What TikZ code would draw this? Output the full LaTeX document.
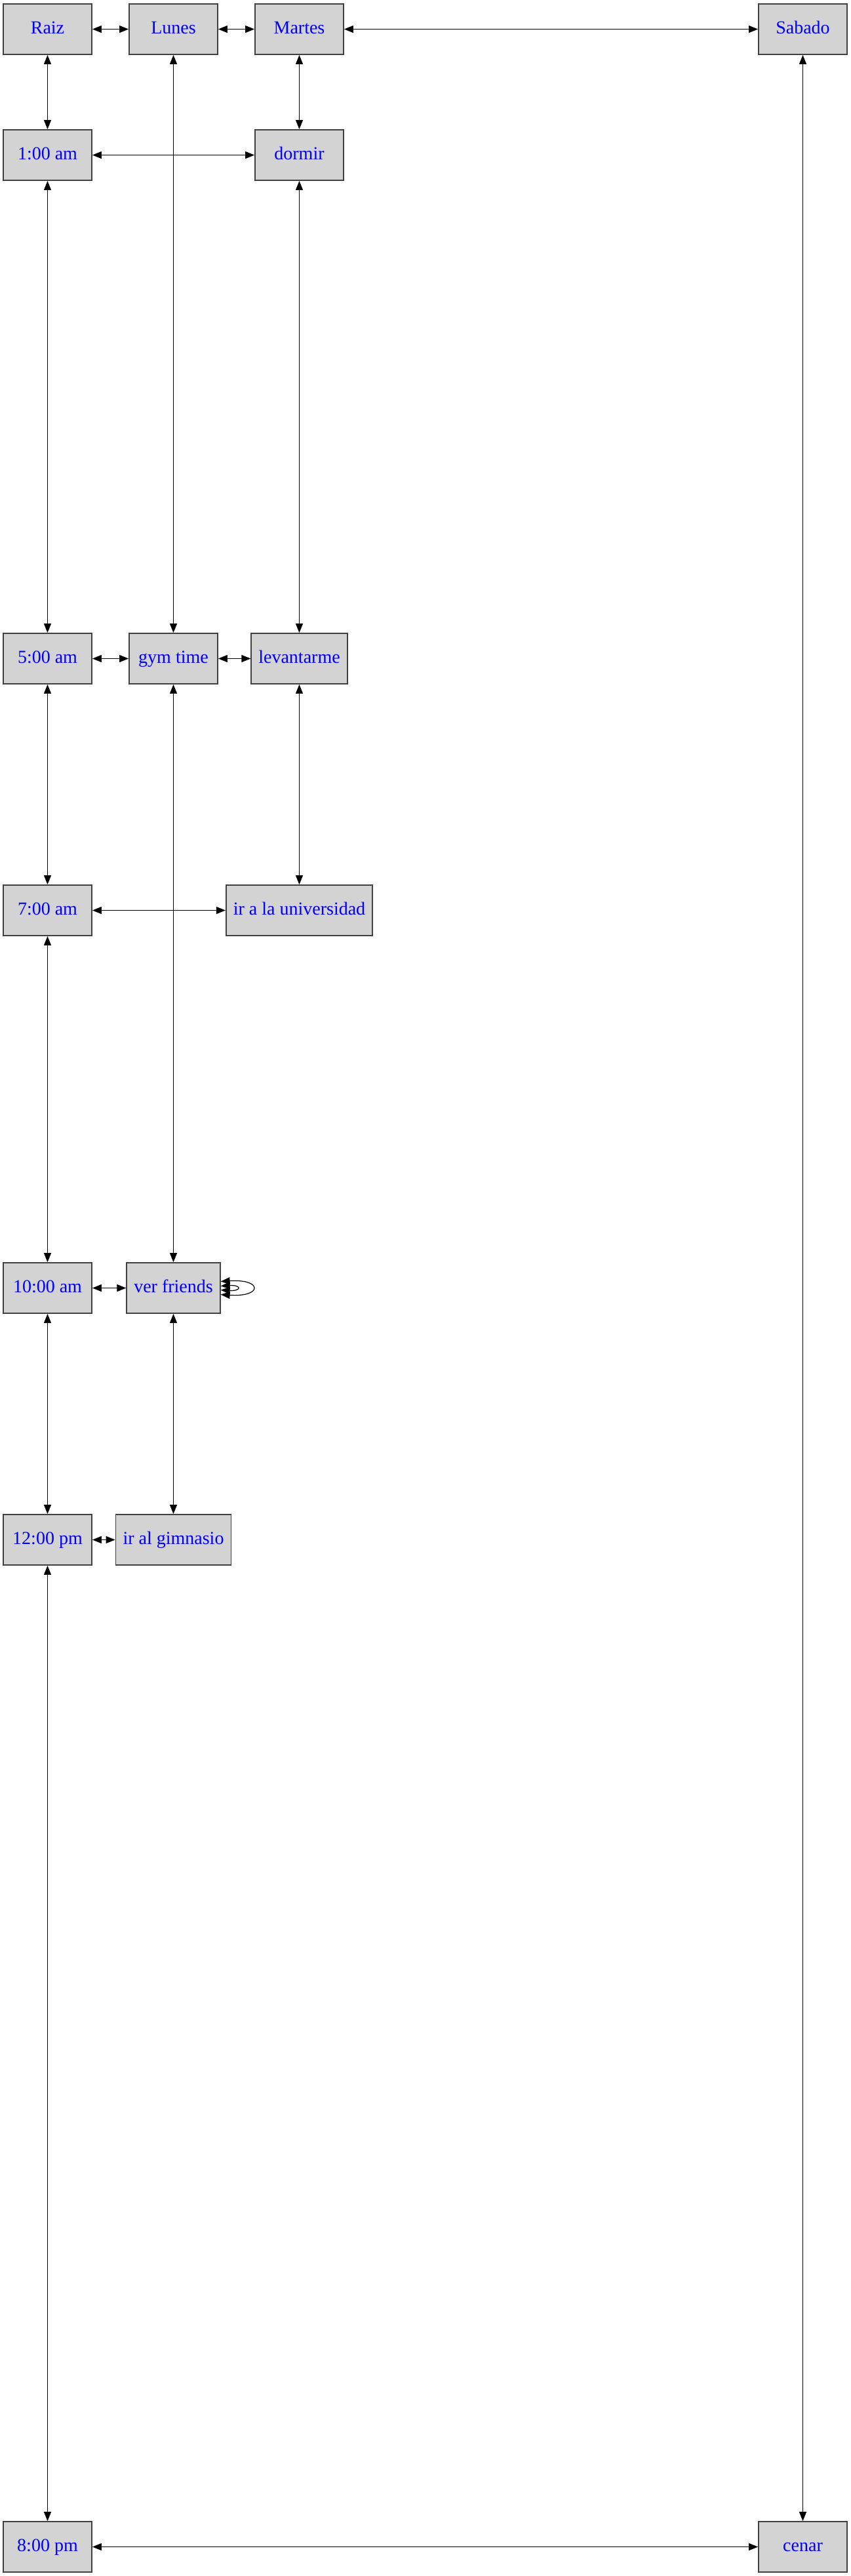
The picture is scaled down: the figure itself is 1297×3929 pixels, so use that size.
\documentclass[tikz,border=0pt]{standalone}
\usepackage{fontspec}
\setmainfont{Liberation Serif}
\usepackage{tikz}
\usetikzlibrary{arrows.meta}
\usepackage{xcolor}
\definecolor{boxgray}{HTML}{D3D3D3}

\begin{document}
\begin{tikzpicture}[x=0.5pt,y=-0.5pt,
  box/.style={draw=black!75, line width=0.9pt, fill=boxgray, text=blue, minimum width=67.5pt, minimum height=38.5pt, inner xsep=5.5pt, text height=10pt, text depth=3pt, font=\fontsize{14pt}{16pt}\selectfont},
  link/.style={{Triangle[length=7pt,width=5.5pt]}-{Triangle[length=7pt,width=5.5pt]}, line width=0.6pt}]
  \useasboundingbox (0,0) rectangle (1297,3929);
  \node[box] (raiz) at (72.5,44.5) {Raiz};
  \node[box] (lunes) at (264.5,44.5) {Lunes};
  \node[box] (martes) at (456.5,44.5) {Martes};
  \node[box] (sabado) at (1224.5,44.5) {Sabado};
  \node[box] (h1) at (72.5,236.5) {1:00 am};
  \node[box] (dormir) at (456.5,236.5) {dormir};
  \node[box] (h5) at (72.5,1004.5) {5:00 am};
  \node[box] (gym) at (264.5,1004.5) {gym time};
  \node[box] (levantarme) at (456.5,1004.5) {levantarme};
  \node[box] (h7) at (72.5,1388.5) {7:00 am};
  \node[box] (uni) at (456.5,1388.5) {ir a la universidad};
  \node[box] (h10) at (72.5,1964.5) {10:00 am};
  \node[box] (friends) at (264.5,1964.5) {ver friends};
  \node[box] (h12) at (72.5,2348.5) {12:00 pm};
  \node[box, minimum width=87.5pt] (gimnasio) at (264.5,2348.5) {ir al gimnasio};
  \node[box] (h20) at (72.5,3884.5) {8:00 pm};
  \node[box] (cenar) at (1224.5,3884.5) {cenar};
   \draw[link] (raiz) -- (lunes);
   \draw[link] (lunes) -- (martes);
   \draw[link] (martes) -- (sabado);
   \draw[link] (raiz) -- (h1);
   \draw[link] (martes) -- (dormir);
   \draw[link] (h1) -- (dormir);
   \draw[link] (lunes) -- (gym);
   \draw[link] (sabado) -- (cenar);
   \draw[link] (h1) -- (h5);
   \draw[link] (dormir) -- (levantarme);
   \draw[link] (h5) -- (gym);
   \draw[link] (gym) -- (levantarme);
   \draw[link] (h5) -- (h7);
   \draw[link] (levantarme) -- (uni);
   \draw[link] (h7) -- (uni);
   \draw[link] (gym) -- (friends);
   \draw[link] (h7) -- (h10);
   \draw[link] (h10) -- (friends);
   \draw[link] ([yshift=5pt]friends.east) .. controls +(32pt,2pt) and +(32pt,-2pt) .. ([yshift=-5pt]friends.east);
   \draw[link] ([yshift=1.5pt]friends.east) .. controls +(16pt,1pt) and +(16pt,-1pt) .. ([yshift=-1.5pt]friends.east);
   \draw[link] (h10) -- (h12);
   \draw[link] (friends) -- (gimnasio);
   \draw[link] (h12) -- (gimnasio);
   \draw[link] (h12) -- (h20);
   \draw[link] (h20) -- (cenar);
\end{tikzpicture}
\end{document}
